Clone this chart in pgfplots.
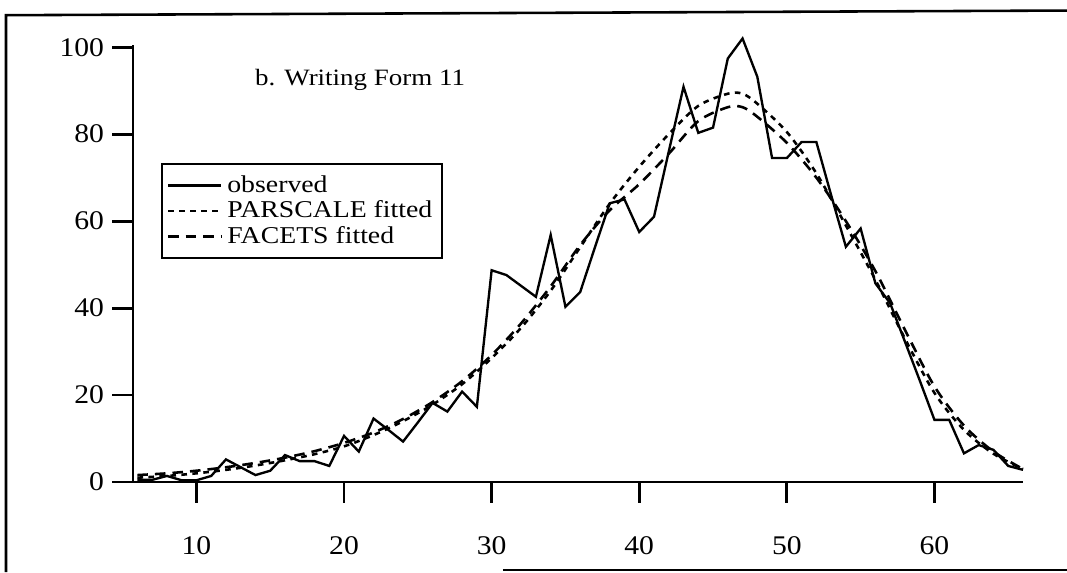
\documentclass[border=0pt]{standalone}
\usepackage{pgfplots}
\pgfplotsset{compat=1.18}
\usepackage{fontspec}
\setmainfont[FakeStretch=1.15]{Liberation Serif}
\newfontfamily\tickfont[FakeStretch=1.1]{Liberation Serif}

\pgfplotstableread{
x y
6 0.5
7 0.5
8 1.4
9 0.4
10 0.4
11 1.4
12 5.2
13 3.4
14 1.6
15 2.6
16 6.2
17 4.8
18 4.8
19 3.7
20 10.6
21 7.0
22 14.6
23 12.0
24 9.3
25 13.7
26 18.2
27 16.2
28 20.8
29 17.3
30 48.7
31 47.6
32 45.1
33 42.6
34 56.8
35 40.3
36 43.7
37 54.0
38 64.1
39 65.0
40 57.5
41 61.0
42 76.0
43 90.9
44 80.3
45 81.5
46 97.4
47 102.0
48 93.2
49 74.5
50 74.5
51 78.2
52 78.2
53 66.0
54 54.1
55 58.3
56 45.7
57 41.1
58 32.3
59 23.4
60 14.3
61 14.3
62 6.6
63 8.5
64 7.4
65 3.7
66 2.8
}\observed

\pgfplotstableread{
x y
6 1.0
8 1.4
10 2.0
12 2.8
14 3.8
16 5.0
18 6.4
20 8.2
22 10.8
24 14.0
26 17.8
28 22.5
30 28.5
32 35.5
34 44.0
36 54.0
38 64.0
40 72.5
42 80.0
44 86.5
46 89.3
47 89.3
48 87.0
50 80.5
52 71.0
54 59.0
56 46.5
58 33.0
60 20.5
62 12.0
64 6.5
66 3.0
}\parscale

\pgfplotstableread{
x y
6 1.6
8 2.0
10 2.6
12 3.4
14 4.4
16 5.6
18 7.1
20 9.0
22 11.4
24 14.5
26 18.4
28 23.2
30 29.2
32 36.5
34 45.0
36 54.5
38 62.5
40 68.5
42 75.5
44 83.0
46 86.2
47 86.2
48 84.0
50 78.0
52 70.0
54 60.0
56 48.5
58 35.0
60 22.0
62 13.0
64 7.0
66 3.0
}\facets

\begin{document}
\begin{tikzpicture}
\useasboundingbox (0,0) rectangle (16,8.578);
% frame of the scanned figure
\draw[line width=1.1pt] (0.09,0) -- (0.09,8.35) -- (16,8.42);
\draw[line width=1.1pt] (7.54,0.03) -- (16,0.03);
\begin{axis}[
  at={(1.994cm,1.35cm)}, anchor=south west,
  scale only axis, width=13.346cm, height=6.553cm,
  xmin=5.7, xmax=66, ymin=0, ymax=100.5,
  clip=false,
  axis x line*=bottom, axis y line*=left,
  axis line style={line width=1.2pt},
  xtick={10,20,...,60}, ytick={0,20,...,100},
  tick align=outside, major tick length=0.31cm,
  tick style={line width=1.2pt, black},
  tick label style={font=\tickfont\fontsize{11.5}{13}\selectfont},
  xticklabel style={yshift=-0.38cm},
  /pgf/number format/assume math mode=true,
  legend style={at={(0.0315,0.73)}, anchor=north west, draw=black,
    line width=0.9pt, font=\fontsize{10.3}{11}\selectfont,
    inner xsep=2pt, inner ysep=2.8pt, row sep=-1.8pt},
  legend cell align=left,
  legend image code/.code={\draw[#1] (0cm,0cm) -- (0.8cm,0cm);},
]
\addplot[black, line width=1pt] table {\observed};
\addplot[black, line width=1.1pt, smooth, dash pattern=on 2.4pt off 2.3pt] table {\parscale};
\addplot[black, line width=1.1pt, smooth, dash pattern=on 4.5pt off 3pt] table {\facets};
\legend{observed, PARSCALE fitted, FACETS fitted}
\node[anchor=west, font=\fontsize{10}{11}\selectfont] at (rel axis cs:0.128,0.92) {b. Writing Form 11};
\end{axis}
\end{tikzpicture}
\end{document}
